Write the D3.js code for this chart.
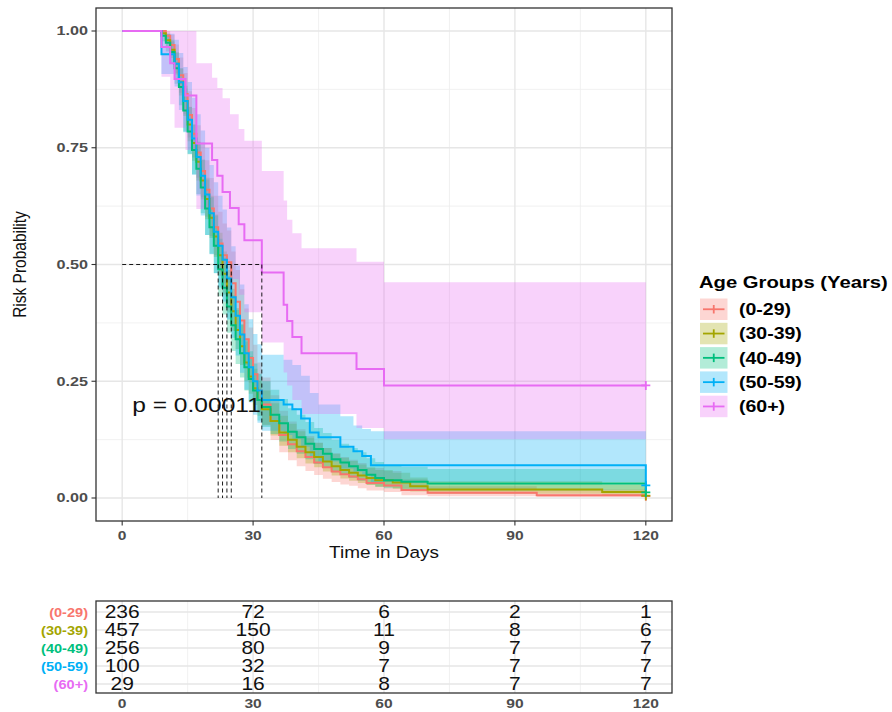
<!DOCTYPE html>
<html>
<head>
<meta charset="utf-8">
<script src="https://cdn.jsdelivr.net/npm/d3@7"></script>
<style>
  body { margin: 0; background: #fff; }
  text { font-family: "Liberation Sans", Arial, sans-serif; }
</style>
</head>
<body>
<script>
// groups and colours (ggplot default hue palette)
var groups = ["(0-29)", "(30-39)", "(40-49)", "(50-59)", "(60+)"];
var colors = ["#F8766D", "#A3A500", "#00BF7D", "#00B0F6", "#E76BF3"];

// Kaplan-Meier steps: time, estimate, lower / upper CI
var time_0_29 = [0,10,11,12,13,14,15,16,17,18,19,20,21,22,23,24,25,26,27,28,29,30,31,32,34,36,38,40,42,44,46,48,50,52,54,56,60,64,70,95,120];
var surv_0_29 = [1,0.99,0.97,0.94,0.905,0.865,0.82,0.78,0.74,0.70,0.66,0.62,0.58,0.545,0.52,0.505,0.46,0.42,0.38,0.34,0.30,0.265,0.23,0.20,0.165,0.135,0.115,0.10,0.088,0.076,0.066,0.057,0.051,0.046,0.040,0.032,0.027,0.017,0.011,0.006,0.004];
var lower_0_29 = [1,0.977,0.948,0.910,0.868,0.822,0.772,0.729,0.686,0.644,0.602,0.561,0.520,0.485,0.460,0.445,0.401,0.362,0.323,0.285,0.247,0.214,0.182,0.155,0.124,0.098,0.081,0.068,0.058,0.049,0.041,0.034,0.029,0.026,0.021,0.016,0.013,0.006,0.004,0.002,0.002];
var upper_0_29 = [1,1.0,0.992,0.971,0.943,0.910,0.871,0.835,0.798,0.761,0.723,0.685,0.647,0.613,0.588,0.573,0.528,0.488,0.447,0.406,0.365,0.328,0.290,0.258,0.220,0.187,0.164,0.147,0.133,0.119,0.107,0.096,0.088,0.082,0.075,0.064,0.058,0.040,0.025,0.018,0.018];

var time_30_39 = [0,9,10,11,12,13,14,15,16,17,18,19,20,21,22,23,24,25,26,27,28,29,30,31,32,34,36,38,40,42,44,46,48,50,52,54,56,58,62,66,70,110,120];
var surv_30_39 = [1,0.995,0.98,0.96,0.93,0.89,0.85,0.80,0.76,0.72,0.68,0.64,0.60,0.56,0.52,0.48,0.44,0.40,0.36,0.325,0.29,0.26,0.235,0.21,0.19,0.165,0.14,0.125,0.11,0.098,0.088,0.078,0.068,0.06,0.054,0.048,0.043,0.038,0.033,0.025,0.018,0.013,0.005];
var lower_30_39 = [1,0.989,0.967,0.942,0.907,0.862,0.818,0.764,0.722,0.680,0.639,0.597,0.557,0.516,0.476,0.436,0.397,0.358,0.319,0.285,0.251,0.223,0.199,0.176,0.157,0.134,0.112,0.098,0.085,0.074,0.066,0.057,0.048,0.042,0.037,0.032,0.028,0.024,0.020,0.014,0.009,0.006,0.002];
var upper_30_39 = [1,1.0,0.993,0.978,0.954,0.919,0.883,0.838,0.800,0.762,0.724,0.686,0.647,0.607,0.568,0.528,0.488,0.448,0.407,0.371,0.335,0.304,0.277,0.251,0.230,0.203,0.176,0.159,0.143,0.129,0.118,0.107,0.095,0.086,0.079,0.072,0.066,0.060,0.054,0.044,0.036,0.029,0.020];

var time_40_49 = [0,9,10,11,12,13,14,15,16,17,18,19,20,21,22,23,24,25,26,27,28,29,30,31,32,34,36,38,40,42,44,46,48,50,52,54,56,58,60,64,70,120];
var surv_40_49 = [1,0.99,0.975,0.955,0.92,0.88,0.83,0.785,0.745,0.705,0.665,0.62,0.58,0.54,0.49,0.45,0.41,0.37,0.34,0.31,0.28,0.255,0.23,0.21,0.195,0.178,0.16,0.142,0.13,0.116,0.105,0.095,0.083,0.076,0.068,0.06,0.05,0.043,0.038,0.035,0.031,0.012];
var lower_40_49 = [1,0.978,0.956,0.930,0.887,0.841,0.785,0.736,0.693,0.651,0.610,0.563,0.523,0.482,0.432,0.393,0.354,0.315,0.287,0.258,0.230,0.207,0.184,0.166,0.152,0.137,0.121,0.105,0.095,0.083,0.073,0.065,0.055,0.050,0.043,0.037,0.029,0.024,0.021,0.018,0.016,0.004];
var upper_40_49 = [1,1.0,0.994,0.981,0.954,0.921,0.877,0.837,0.800,0.763,0.725,0.682,0.644,0.605,0.555,0.515,0.475,0.434,0.403,0.372,0.341,0.314,0.288,0.266,0.250,0.232,0.212,0.192,0.178,0.163,0.150,0.139,0.125,0.116,0.107,0.098,0.085,0.077,0.070,0.067,0.062,0.035];

var time_50_59 = [0,9,12,13,14,15,16,17,18,19,20,21,22,23,24,25,26,27,28,29,30,31,32,37,39,41,43,45,50,53,55,57,120];
var surv_50_59 = [1,0.95,0.93,0.89,0.85,0.81,0.77,0.73,0.69,0.65,0.61,0.57,0.54,0.51,0.47,0.43,0.39,0.35,0.31,0.28,0.25,0.23,0.21,0.20,0.19,0.17,0.14,0.13,0.11,0.10,0.09,0.07,0.027];
var lower_50_59 = [1,0.908,0.881,0.831,0.783,0.737,0.692,0.648,0.605,0.563,0.522,0.481,0.451,0.421,0.382,0.343,0.305,0.268,0.232,0.205,0.178,0.161,0.144,0.135,0.127,0.110,0.086,0.078,0.063,0.056,0.050,0.034,0.010];
var upper_50_59 = [1,0.994,0.981,0.953,0.923,0.891,0.857,0.822,0.787,0.750,0.713,0.676,0.647,0.618,0.579,0.539,0.498,0.457,0.415,0.383,0.351,0.329,0.307,0.296,0.285,0.262,0.225,0.200,0.175,0.155,0.148,0.143,0.10];

var time_60 = [0,9,11,12,14.5,17,20.6,21.8,23,24.7,26.7,28,32,37,37.8,39,41.1,53.7,60,120];
var surv_60 = [1,0.966,0.931,0.897,0.862,0.759,0.724,0.690,0.655,0.621,0.586,0.552,0.483,0.414,0.379,0.345,0.310,0.276,0.241,0.241];
var lower_60 = [1,0.902,0.843,0.793,0.745,0.619,0.582,0.542,0.501,0.469,0.435,0.398,0.333,0.269,0.241,0.210,0.180,0.150,0.126,0.126];
var upper_60 = [1,1,1,1,1,0.931,0.900,0.878,0.856,0.822,0.790,0.765,0.700,0.637,0.596,0.567,0.535,0.506,0.462,0.462];

// median survival times (dashed guides)
var medians = [25, 23, 22, 24, 32];

// ticks
var xTicks = [0, 30, 60, 90, 120];
var yTicks = [0, 0.25, 0.5, 0.75, 1];
var yTickLabels = ["0.00", "0.25", "0.50", "0.75", "1.00"];

// numbers at risk
var riskTimes = [0, 30, 60, 90, 120];
var riskCounts = [
    [236, 72, 6, 2, 1],
    [457, 150, 11, 8, 6],
    [256, 80, 9, 7, 7],
    [100, 32, 7, 7, 7],
    [29, 16, 8, 7, 7]
];

var pText = "p = 0.00011";

// ---------------------------------------------------------------
var series = [
    [time_0_29, surv_0_29, lower_0_29, upper_0_29],
    [time_30_39, surv_30_39, lower_30_39, upper_30_39],
    [time_40_49, surv_40_49, lower_40_49, upper_40_49],
    [time_50_59, surv_50_59, lower_50_59, upper_50_59],
    [time_60, surv_60, lower_60, upper_60]
].map(function (s, i) {
    return {
        name: groups[i], color: colors[i],
        pts: s[0].map(function (t, j) { return { t: t, s: s[1][j], lo: s[2][j], hi: s[3][j] }; })
    };
});

var W = 892, H = 712;
var panel = { left: 96, right: 672, top: 8, bottom: 521 };
var tbl = { top: 601, bottom: 693 };

var svg = d3.select("body").append("svg")
    .attr("width", W).attr("height", H);

var x = d3.scaleLinear().domain([-6, 126]).range([panel.left, panel.right]);
var y = d3.scaleLinear().domain([-0.05, 1.05]).range([521.35, 7.65]);

// text with a small horizontal stretch like the source image
function label(g, px, py, str, o) {
    return g.append("text")
        .attr("transform", "translate(" + px + "," + py + ") scale(" + (o.sx || 1) + ",1)")
        .attr("text-anchor", o.anchor || "start")
        .attr("font-size", o.size)
        .attr("font-weight", o.bold ? "bold" : "normal")
        .attr("fill", o.fill || "#000")
        .text(str);
}

// ---- panel background + grid
var grid = svg.append("g");
grid.append("rect").attr("x", panel.left).attr("y", panel.top)
    .attr("width", panel.right - panel.left).attr("height", panel.bottom - panel.top)
    .attr("fill", "#fff");

[15, 45, 75, 105].forEach(function (v) {
    grid.append("line").attr("x1", x(v)).attr("x2", x(v)).attr("y1", panel.top).attr("y2", panel.bottom)
        .attr("stroke", "#EDEDED").attr("stroke-width", 0.8);
});
[0.125, 0.375, 0.625, 0.875].forEach(function (v) {
    grid.append("line").attr("y1", y(v)).attr("y2", y(v)).attr("x1", panel.left).attr("x2", panel.right)
        .attr("stroke", "#EDEDED").attr("stroke-width", 0.8);
});
xTicks.forEach(function (v) {
    grid.append("line").attr("x1", x(v)).attr("x2", x(v)).attr("y1", panel.top).attr("y2", panel.bottom)
        .attr("stroke", "#E6E6E6").attr("stroke-width", 1.4);
});
yTicks.forEach(function (v) {
    grid.append("line").attr("y1", y(v)).attr("y2", y(v)).attr("x1", panel.left).attr("x2", panel.right)
        .attr("stroke", "#E6E6E6").attr("stroke-width", 1.4);
});

// ---- confidence ribbons
var area = d3.area().curve(d3.curveStepAfter)
    .x(function (d) { return x(d.t); })
    .y0(function (d) { return y(d.lo); })
    .y1(function (d) { return y(d.hi); });

svg.append("g").selectAll("path").data(series).enter().append("path")
    .attr("d", function (d) { return area(d.pts); })
    .attr("fill", function (d) { return d.color; })
    .attr("fill-opacity", 0.3);

// ---- survival curves
var line = d3.line().curve(d3.curveStepAfter)
    .x(function (d) { return x(d.t); })
    .y(function (d) { return y(d.s); });

svg.append("g").selectAll("path").data(series).enter().append("path")
    .attr("d", function (d) { return line(d.pts); })
    .attr("fill", "none")
    .attr("stroke", function (d) { return d.color; })
    .attr("stroke-width", 2);

// censor marks at the end of follow-up
svg.append("g").selectAll("path").data(series).enter().append("path")
    .attr("d", function (d) {
        var p = d.pts[d.pts.length - 1], cx = x(p.t), cy = y(p.s);
        return "M" + (cx - 4.5) + "," + cy + "H" + (cx + 4.5) + "M" + cx + "," + (cy - 4.5) + "V" + (cy + 4.5);
    })
    .attr("stroke", function (d) { return d.color; })
    .attr("stroke-width", 1.8);

// p value
label(svg, x(2.3), y(0.2) + 7.5, pText, { size: 21, sx: 1.17, fill: "#111" });

// median guides
var guides = svg.append("g").attr("stroke", "#000").attr("stroke-width", 0.9)
    .attr("stroke-dasharray", "4,3").attr("fill", "none");
guides.append("line").attr("x1", x(0)).attr("x2", x(d3.max(medians)))
    .attr("y1", y(0.5)).attr("y2", y(0.5));
medians.forEach(function (m) {
    guides.append("line").attr("x1", x(m)).attr("x2", x(m))
        .attr("y1", y(0.5)).attr("y2", y(0));
});

// ---- panel border, axes
svg.append("rect").attr("x", panel.left).attr("y", panel.top)
    .attr("width", panel.right - panel.left).attr("height", panel.bottom - panel.top)
    .attr("fill", "none").attr("stroke", "#333").attr("stroke-width", 1.3);

var axes = svg.append("g");
yTicks.forEach(function (v, i) {
    axes.append("line").attr("x1", panel.left - 4.5).attr("x2", panel.left)
        .attr("y1", y(v)).attr("y2", y(v)).attr("stroke", "#333").attr("stroke-width", 1.1);
    label(axes, panel.left - 8, y(v) + 4.3, yTickLabels[i], { size: 12, bold: true, sx: 1.35, anchor: "end", fill: "#4D4D4D" });
});
xTicks.forEach(function (v) {
    axes.append("line").attr("x1", x(v)).attr("x2", x(v))
        .attr("y1", panel.bottom).attr("y2", panel.bottom + 4.5).attr("stroke", "#333").attr("stroke-width", 1.1);
    label(axes, x(v), 540, v, { size: 12, bold: true, sx: 1.3, anchor: "middle", fill: "#4D4D4D" });
});
label(axes, (x(0) + x(120)) / 2, 558, "Time in Days", { size: 16.5, sx: 1.15, anchor: "middle", fill: "#111" });

axes.append("text")
    .attr("transform", "translate(26," + y(0.5) + ") rotate(-90) scale(1,1.15)")
    .attr("text-anchor", "middle").attr("font-size", 15.5).attr("fill", "#111")
    .text("Risk Probability");

// ---- legend
var leg = svg.append("g");
label(leg, 699, 288, "Age Groups (Years)", { size: 17, bold: true, sx: 1.19 });
series.forEach(function (d, i) {
    var ky = 298.5 + i * 24.3;
    leg.append("rect").attr("x", 700).attr("y", ky).attr("width", 27.5).attr("height", 21.5)
        .attr("fill", d.color).attr("fill-opacity", 0.3);
    leg.append("line").attr("x1", 703).attr("x2", 724.5).attr("y1", ky + 10.75).attr("y2", ky + 10.75)
        .attr("stroke", d.color).attr("stroke-width", 1.8);
    leg.append("line").attr("x1", 713.75).attr("x2", 713.75).attr("y1", ky + 6.5).attr("y2", ky + 15)
        .attr("stroke", d.color).attr("stroke-width", 1.8);
    label(leg, 739, ky + 16.5, d.name, { size: 16, bold: true, sx: 1.22 });
});

// ---- risk table
var rowY = d3.scalePoint().domain(groups).range([612, 684]);
var tg = svg.append("g");
tg.append("rect").attr("x", panel.left).attr("y", tbl.top)
    .attr("width", panel.right - panel.left).attr("height", tbl.bottom - tbl.top).attr("fill", "#fff");
[15, 45, 75, 105].forEach(function (v) {
    tg.append("line").attr("x1", x(v)).attr("x2", x(v)).attr("y1", tbl.top).attr("y2", tbl.bottom)
        .attr("stroke", "#EDEDED").attr("stroke-width", 0.8);
});
riskTimes.forEach(function (v) {
    tg.append("line").attr("x1", x(v)).attr("x2", x(v)).attr("y1", tbl.top).attr("y2", tbl.bottom)
        .attr("stroke", "#E6E6E6").attr("stroke-width", 1.4);
});
groups.forEach(function (g) {
    tg.append("line").attr("y1", rowY(g)).attr("y2", rowY(g)).attr("x1", panel.left).attr("x2", panel.right)
        .attr("stroke", "#E6E6E6").attr("stroke-width", 1.4);
});
riskCounts.forEach(function (row, i) {
    row.forEach(function (n, j) {
        label(tg, x(riskTimes[j]), rowY(groups[i]) + 6.3, n, { size: 17.5, sx: 1.2, anchor: "middle", fill: "#111" });
    });
    label(tg, 88, rowY(groups[i]) + 4.5, groups[i], { size: 13, bold: true, sx: 1.12, anchor: "end", fill: colors[i] });
});
tg.append("rect").attr("x", panel.left).attr("y", tbl.top)
    .attr("width", panel.right - panel.left).attr("height", tbl.bottom - tbl.top)
    .attr("fill", "none").attr("stroke", "#333").attr("stroke-width", 1.3);
riskTimes.forEach(function (v) {
    label(tg, x(v), 707.5, v, { size: 12, bold: true, sx: 1.3, anchor: "middle", fill: "#4D4D4D" });
});
</script>
</body>
</html>
